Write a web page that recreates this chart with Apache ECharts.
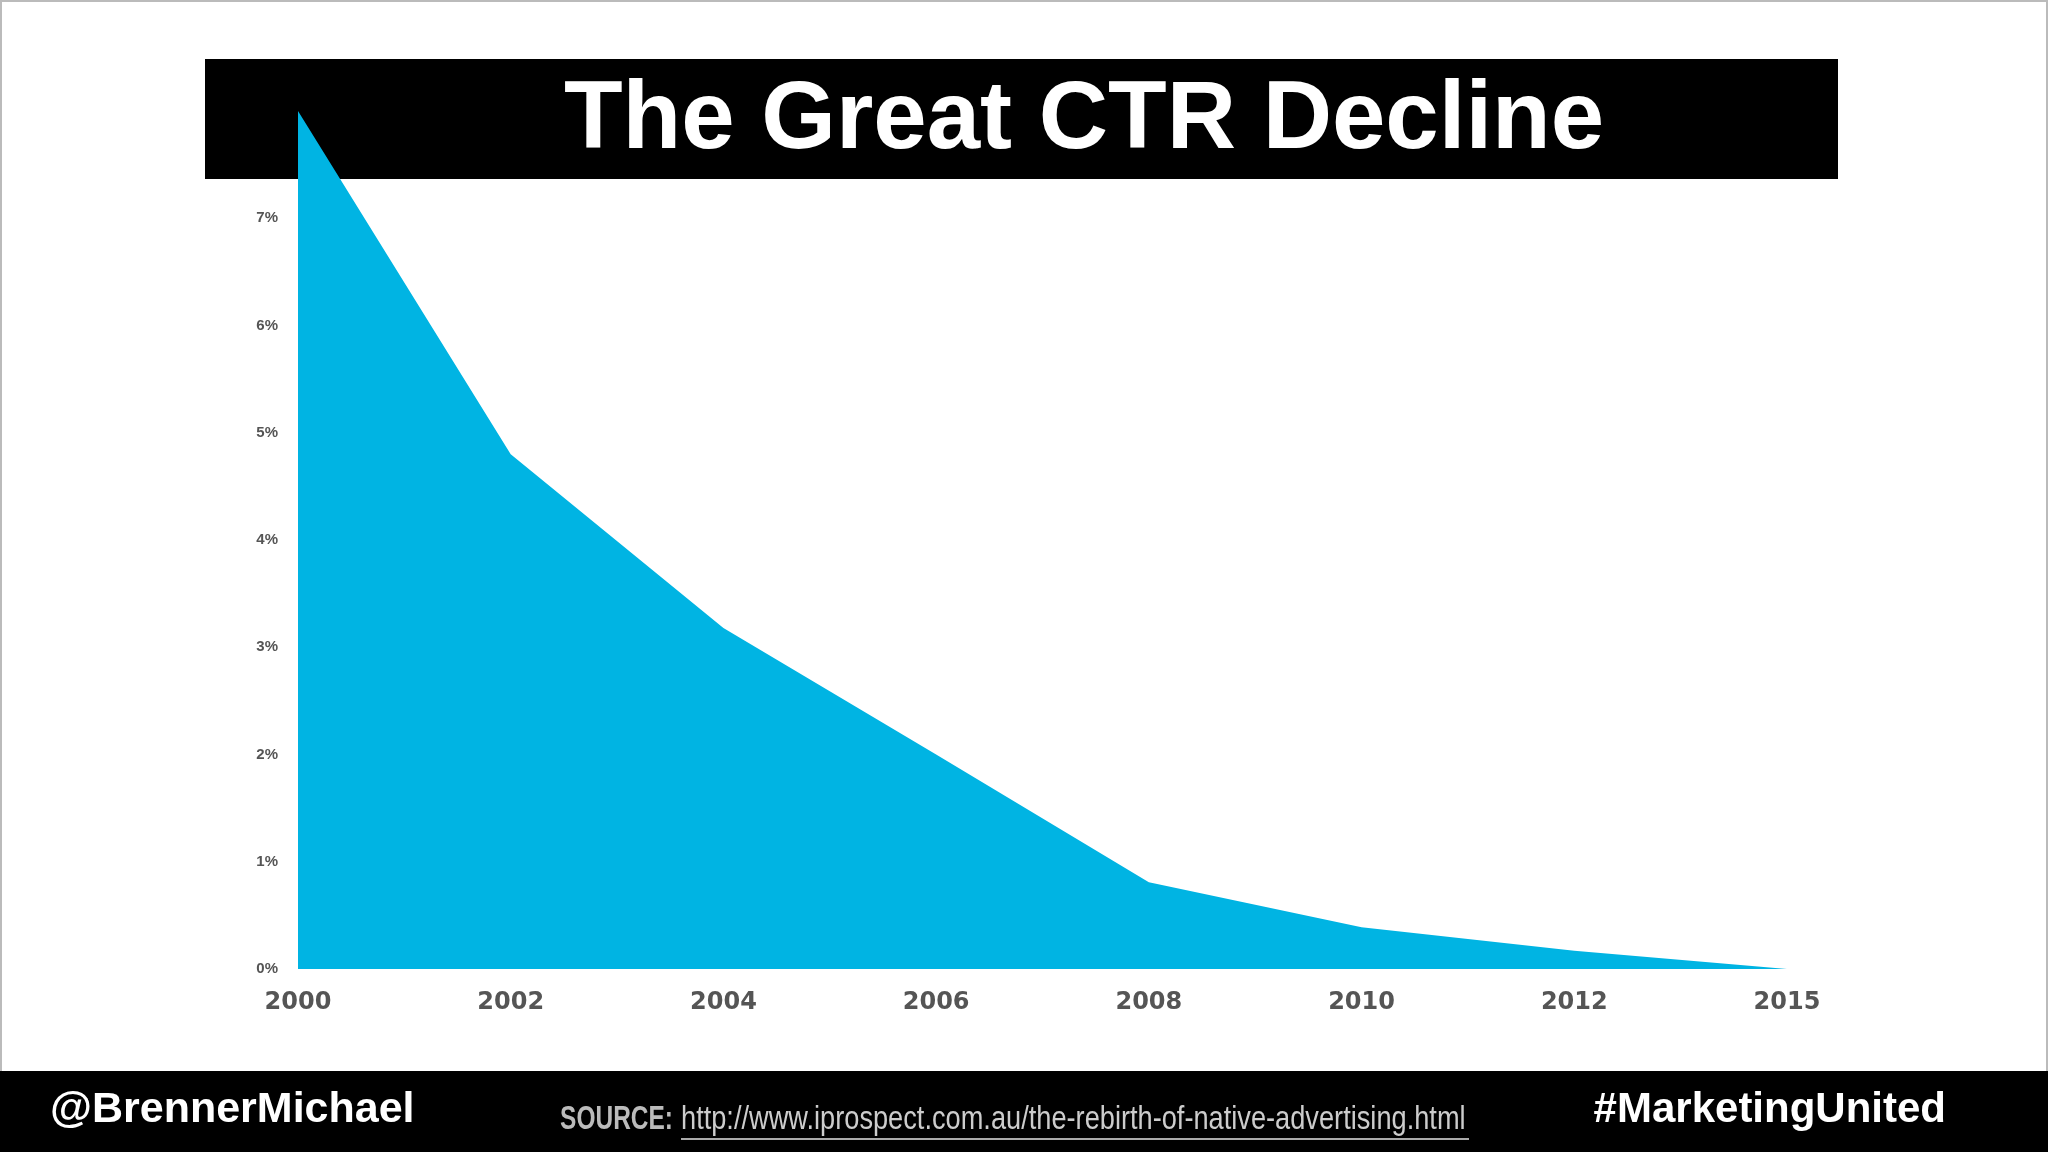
<!DOCTYPE html>
<html><head><meta charset="utf-8">
<script src="https://cdn.jsdelivr.net/npm/echarts@6/dist/echarts.min.js"></script>
<style>html,body{margin:0;padding:0;background:#fff}#c{width:2048px;height:1152px}</style>
</head><body><div id="c"></div>
<script>
const years = ['2000','2002','2004','2006','2008','2010','2012','2015'];
const ctr = [8.0, 4.8, 3.18, 2.0, 0.81, 0.39, 0.17, 0.0];
const yTicks = [0,1,2,3,4,5,6,7];
const titleText = 'The Great CTR Decline';
const leftText = '@BrennerMichael';
const rightText = '#MarketingUnited';
const sourceLabel = 'SOURCE:';
const sourceUrl = 'http://www.iprospect.com.au/the-rebirth-of-native-advertising.html';

const chart = echarts.init(document.getElementById('c'));
chart.setOption({
  backgroundColor: '#ffffff',
  animation: false,
  grid: {left: 298, right: 261, top: 111, bottom: 183},
  xAxis: {type: 'category', data: years, boundaryGap: false,
    axisLine: {show: false}, axisTick: {show: false},
    axisLabel: {color: '#555', fontWeight: 'bold', fontSize: 24, fontFamily: 'DejaVu Sans', margin: 22}},
  yAxis: {type: 'value', min: 0, max: 8, interval: 1,
    splitLine: {show: false}, axisLine: {show: false},
    axisLabel: {color: '#555', fontWeight: 'bold', fontSize: 15, margin: 20, formatter: v => yTicks.includes(v) ? v + '%' : ''}},
  graphic: [
    {type: 'rect', z: -10, shape: {x: 1, y: 1, width: 2046, height: 1150}, style: {fill: 'none', stroke: '#bbb', lineWidth: 2}},
    {type: 'rect', z: -5, shape: {x: 205, y: 59, width: 1633, height: 120}, style: {fill: '#000'}},
    {type: 'text', z: -4, x: 1084, y: 122, style: {text: titleText, fill: '#fff', font: 'bold 96px "Liberation Sans", Arial', textAlign: 'center', textVerticalAlign: 'middle'}},
    {type: 'rect', z: -5, shape: {x: 0, y: 1071, width: 2048, height: 81}, style: {fill: '#000'}},
    {type: 'text', z: -4, x: 50, y: 1110, style: {text: leftText, fill: '#fff', font: 'bold 43px "Liberation Sans", Arial', textVerticalAlign: 'middle'}},
    {type: 'text', z: -4, x: 1946, y: 1110, style: {text: rightText, fill: '#fff', font: 'bold 42px "Liberation Sans", Arial', textAlign: 'right', textVerticalAlign: 'middle'}},
    {type: 'text', z: -4, x: 673, y: 1120, scaleX: 0.72, style: {text: sourceLabel, fill: '#bbb', font: 'bold 34px "Liberation Sans", Arial', textAlign: 'right', textVerticalAlign: 'middle'}},
    {type: 'text', z: -4, x: 681, y: 1120, scaleX: 0.8, style: {text: sourceUrl, fill: '#ccc', font: '34px "Liberation Sans", Arial', textVerticalAlign: 'middle'}},
    {type: 'rect', z: -4, shape: {x: 681, y: 1138, width: 788, height: 2}, style: {fill: '#aaa'}}
  ],
  series: [{type: 'line', data: ctr, symbol: 'none', z: 5,
    lineStyle: {width: 0}, areaStyle: {color: '#00b4e3', opacity: 1}}]
});
</script></body></html>
